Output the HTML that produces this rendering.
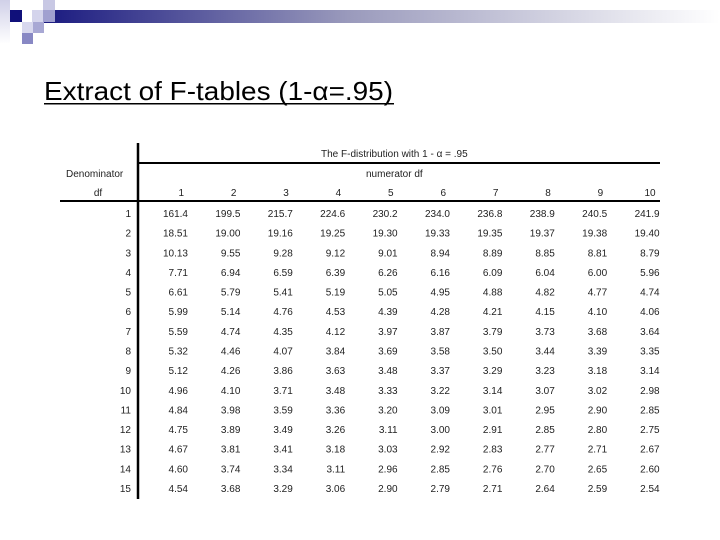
<!DOCTYPE html>
<html><head><meta charset="utf-8"><style>
body{margin:0;width:720px;height:540px;background:#fff;overflow:hidden;font-family:"Liberation Sans",sans-serif}
svg{display:block}
</style></head><body>
<svg width="720" height="540">
<defs><linearGradient id="g" x1="0" x2="1"><stop offset="0" stop-color="#1a1a80"/><stop offset="0.45" stop-color="#9a9abc"/><stop offset="1" stop-color="#fff"/></linearGradient>
<linearGradient id="gv" x1="0" y1="0" x2="0" y2="1"><stop offset="0" stop-color="#d0d0e8"/><stop offset="1" stop-color="#fff"/></linearGradient></defs>
<g>
<rect x="44" y="10" width="676" height="13" fill="url(#g)"/>
<rect x="0" y="0" width="10" height="44" fill="url(#gv)"/>
<rect x="10" y="10" width="12" height="12" fill="#10107a"/>
<rect x="43" y="0" width="12" height="10" fill="#c8c8e4"/>
<rect x="32" y="10" width="11" height="12" fill="#d4d4ec"/>
<rect x="43" y="10" width="12" height="12" fill="#a0a0d0"/>
<rect x="22" y="22" width="11" height="11" fill="#d8d8ee"/>
<rect x="33" y="22" width="11" height="11" fill="#a8a8d4"/>
<rect x="22" y="33" width="11" height="11" fill="#8888c4"/>
</g>
<text x="44" y="100" font-size="26" textLength="349" lengthAdjust="spacingAndGlyphs" fill="#000">Extract of F-tables (1-α=.95)</text>
<rect x="44" y="103" width="350" height="1.5" fill="#000"/>
<g id="tbl" font-size="10" fill="#222">
<line x1="138" y1="143" x2="138" y2="499" stroke="#000" stroke-width="2.5"/>
<line x1="138" y1="163" x2="660" y2="163" stroke="#000" stroke-width="2"/>
<line x1="60" y1="201" x2="660" y2="201" stroke="#000" stroke-width="2"/>
<text x="321" y="157">The F-distribution with 1 - α = .95</text>
<text x="66" y="177">Denominator</text>
<text x="366" y="177">numerator df</text>
<text x="98" y="196" text-anchor="middle">df</text>
</g>
</svg>
<script>
const numDf=[1,2,3,4,5,6,7,8,9,10];
const denDf=[1,2,3,4,5,6,7,8,9,10,11,12,13,14,15];
const vals=[
["161.4","199.5","215.7","224.6","230.2","234.0","236.8","238.9","240.5","241.9"],
["18.51","19.00","19.16","19.25","19.30","19.33","19.35","19.37","19.38","19.40"],
["10.13","9.55","9.28","9.12","9.01","8.94","8.89","8.85","8.81","8.79"],
["7.71","6.94","6.59","6.39","6.26","6.16","6.09","6.04","6.00","5.96"],
["6.61","5.79","5.41","5.19","5.05","4.95","4.88","4.82","4.77","4.74"],
["5.99","5.14","4.76","4.53","4.39","4.28","4.21","4.15","4.10","4.06"],
["5.59","4.74","4.35","4.12","3.97","3.87","3.79","3.73","3.68","3.64"],
["5.32","4.46","4.07","3.84","3.69","3.58","3.50","3.44","3.39","3.35"],
["5.12","4.26","3.86","3.63","3.48","3.37","3.29","3.23","3.18","3.14"],
["4.96","4.10","3.71","3.48","3.33","3.22","3.14","3.07","3.02","2.98"],
["4.84","3.98","3.59","3.36","3.20","3.09","3.01","2.95","2.90","2.85"],
["4.75","3.89","3.49","3.26","3.11","3.00","2.91","2.85","2.80","2.75"],
["4.67","3.81","3.41","3.18","3.03","2.92","2.83","2.77","2.71","2.67"],
["4.60","3.74","3.34","3.11","2.96","2.85","2.76","2.70","2.65","2.60"],
["4.54","3.68","3.29","3.06","2.90","2.79","2.71","2.64","2.59","2.54"]];
const NS="http://www.w3.org/2000/svg";
const g=document.getElementById('tbl');
function colX(i){return 188+i*52.4;}
function rowY(j){return 217+j*19.64;}
function t(x,y,s,anchor){const e=document.createElementNS(NS,'text');e.setAttribute('x',x);e.setAttribute('y',y);e.setAttribute('text-anchor',anchor);e.textContent=s;g.appendChild(e);return e;}
numDf.forEach((d,i)=>{const e=t(colX(i)-4,196,String(d),'end');

});
denDf.forEach((d,j)=>{const e=t(131,rowY(j),String(d),'end');


vals[j].forEach((v,i)=>{const c=t(colX(i),rowY(j),v,'end');

});});
</script>
</body></html>
